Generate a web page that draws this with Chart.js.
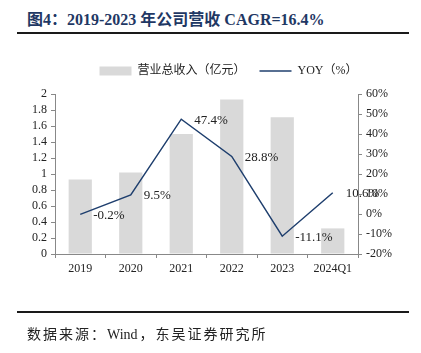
<!DOCTYPE html>
<html><head><meta charset="utf-8">
<script src="https://cdn.jsdelivr.net/npm/chart.js@4.4.1/dist/chart.umd.min.js"></script>
<style>
html,body{margin:0;padding:0;background:#fff;width:421px;height:353px;overflow:hidden;position:relative}
#wrap{position:absolute;left:0;top:0;width:421px;height:353px}
.title{position:absolute;left:27px;top:6px;line-height:20px;font:bold 16px 'Liberation Serif','Noto Sans CJK SC',serif;color:#1f3864;white-space:nowrap}
.rule{position:absolute;left:17px;width:392px;height:2px;background:#1a1a1a}
.src{position:absolute;left:27px;top:323px;line-height:16px;font:14px 'Liberation Serif','Noto Sans CJK SC',serif;letter-spacing:2px;color:#222;white-space:nowrap}
.src .en{letter-spacing:0;margin-right:2px}
</style></head><body>
<div class="title">图4：2019-2023 年公司营收 CAGR=16.4%</div>
<div class="rule" style="top:32px"></div>
<div id="wrap"><canvas id="c" width="421" height="353"></canvas></div>
<div class="rule" style="top:311px"></div>
<div class="src">数据来源：<span class="en">Wind</span>，东吴证券研究所</div>
<script>
const categories = ['2019','2020','2021','2022','2023','2024Q1'];
const revenue = [0.93, 1.02, 1.50, 1.93, 1.71, 0.32];
const yoy = [-0.2, 9.5, 47.4, 28.8, -11.1, 10.6];
const yoyLabels = ['-0.2%','9.5%','47.4%','28.8%','-11.1%','10.6%'];
const revenueName = '营业总收入（亿元）';
const yoyName = 'YOY（%）';

const FONT = "'Liberation Serif','Times New Roman','Noto Sans CJK SC',serif";
Chart.defaults.font.family = FONT;
Chart.defaults.color = '#222';

const labelPlugin = {
  id: 'yoyLabels',
  afterInit(chart) {
    const lg = chart.legend;
    if (lg) {
      const fit = lg.fit.bind(lg);
      lg.fit = function () { fit(); this.height += 7; };
    }
  },
  afterLayout(chart) {
    const lg = chart.legend;
    if (lg) { lg.left += 18; lg.right += 18; }
  },
  afterDatasetsDraw(chart) {
    const meta = chart.getDatasetMeta(1);
    const ctx = chart.ctx;
    ctx.save();
    ctx.font = '13px ' + FONT;
    ctx.fillStyle = '#222';
    ctx.textAlign = 'left';
    ctx.textBaseline = 'middle';
    meta.data.forEach((pt, i) => {
      ctx.fillText(yoyLabels[i], pt.x + 13, pt.y + 1);
    });
    ctx.restore();
  }
};

new Chart(document.getElementById('c'), {
  type: 'bar',
  data: {
    labels: categories,
    datasets: [
      { type: 'bar', label: revenueName, data: revenue, yAxisID: 'y',
        backgroundColor: '#d9d9d9', borderWidth: 0,
        barPercentage: 0.46, categoryPercentage: 1, order: 2 },
      { type: 'line', label: yoyName, data: yoy, yAxisID: 'y1',
        borderColor: '#1f3f6e', backgroundColor: '#1f3f6e', borderWidth: 1.5,
        pointRadius: 0, tension: 0, order: 1 }
    ]
  },
  options: {
    responsive: false,
    animation: false,
    layout: { padding: { left: 0, right: 0, top: 51, bottom: 69 } },
    plugins: {
      legend: {
        position: 'top',
        labels: {
          usePointStyle: true,
          pointStyleWidth: 32,
          boxHeight: 9,
          padding: 14,
          font: { size: 12 },
          color: '#222',
          sort: (a, b) => a.datasetIndex - b.datasetIndex,
          generateLabels(chart) {
            const items = Chart.defaults.plugins.legend.labels.generateLabels(chart);
            items.forEach(it => {
              if (it.datasetIndex === 0) {
                it.pointStyle = 'rect';
                it.fillStyle = '#d9d9d9';
                it.strokeStyle = '#d9d9d9';
                it.lineWidth = 0;
              } else {
                it.pointStyle = 'line';
                it.strokeStyle = '#1f3f6e';
                it.lineWidth = 1.5;
              }
            });
            return items;
          }
        }
      },
      tooltip: { enabled: false }
    },
    scales: {
      x: {
        grid: { display: true, drawOnChartArea: false, drawTicks: true, tickLength: 4, color: '#888', offset: true },
        border: { display: true, color: '#888' },
        ticks: { font: { size: 12 }, color: '#222', padding: 4, maxRotation: 0, autoSkip: false },
        afterFit(s) { s.height = 30; }
      },
      y: {
        position: 'left', min: 0, max: 2,
        grid: { drawOnChartArea: false, drawTicks: true, tickLength: 4, color: '#888' },
        border: { display: true, color: '#888' },
        ticks: { stepSize: 0.2, autoSkip: false, font: { size: 12 }, color: '#222', padding: 4,
          callback: v => String(Math.round(v * 10) / 10) },
        afterFit(s) { s.width = 55; }
      },
      y1: {
        position: 'right', min: -20, max: 60,
        grid: { drawOnChartArea: false, drawTicks: true, tickLength: 4, color: '#888' },
        border: { display: true, color: '#888' },
        ticks: { stepSize: 10, autoSkip: false, font: { size: 12 }, color: '#222', padding: 4,
          callback: v => Math.round(v) + '%' },
        afterFit(s) { s.width = 63; }
      }
    }
  },
  plugins: [labelPlugin]
});
</script>
</body></html>
